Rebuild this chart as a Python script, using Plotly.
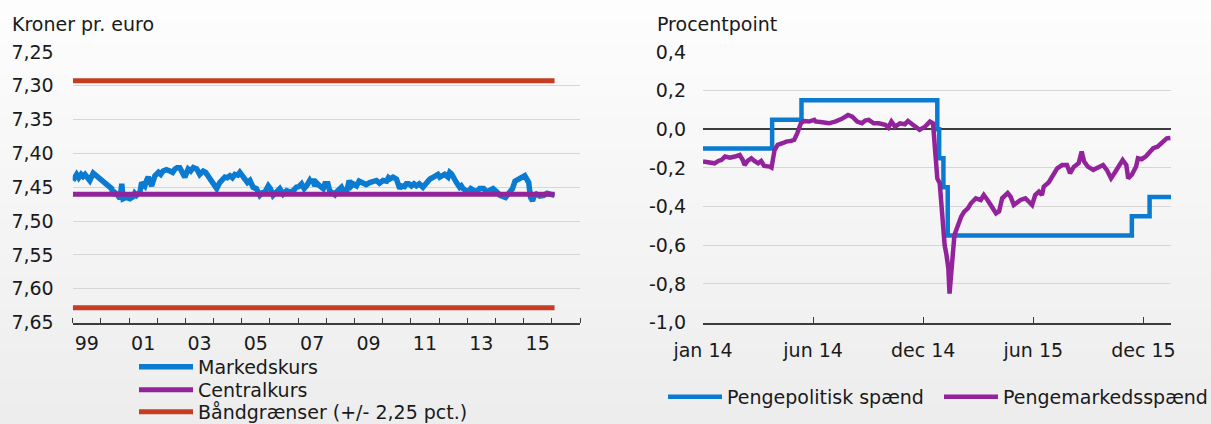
import plotly.graph_objects as go

# ---------------- data: left panel (kroner pr. euro) ----------------
mk_dates = [
    "1999-01-04", "1999-01-20", "1999-02-21", "1999-04-20", "1999-06-10", "1999-07-20",
    "1999-08-10", "1999-09-24", "1999-11-06", "1999-12-20", "2000-02-06", "2000-03-14",
    "2000-04-27", "2000-06-10", "2000-07-01", "2000-07-24", "2000-09-06", "2000-09-28",
    "2000-10-16", "2000-11-25", "2001-01-12", "2001-02-24", "2001-04-08", "2001-05-22",
    "2001-06-13", "2001-07-24", "2001-09-06", "2001-10-20", "2001-12-02", "2002-01-16",
    "2002-03-18", "2002-06-14", "2002-08-19", "2002-10-20", "2002-12-24", "2003-02-06",
    "2003-04-13", "2003-05-27", "2003-07-05", "2003-08-19", "2003-10-23", "2003-12-28",
    "2004-02-10", "2004-03-21", "2004-05-26", "2004-07-31", "2004-10-04", "2004-12-06",
    "2005-02-10", "2005-04-16", "2005-05-27", "2005-07-09", "2005-08-22", "2005-10-27",
    "2005-12-10", "2006-02-10", "2006-03-26", "2006-05-08", "2006-08-04", "2006-09-17",
    "2006-12-09", "2007-02-14", "2007-04-20", "2007-05-31", "2007-07-06", "2007-08-04",
    "2007-08-26", "2007-10-09", "2007-11-22", "2007-12-14", "2008-01-22", "2008-02-13",
    "2008-03-28", "2008-05-12", "2008-06-24", "2008-08-07", "2008-09-20", "2008-10-23",
    "2008-12-13", "2009-01-26", "2009-04-23", "2009-07-16", "2009-10-12", "2010-01-05",
    "2010-04-01", "2010-05-15", "2010-06-28", "2010-07-20", "2010-09-02", "2010-11-03",
    "2011-01-08", "2011-03-14", "2011-06-06", "2011-07-19", "2011-09-02", "2011-11-07",
    "2011-12-17", "2012-02-03", "2012-03-14", "2012-04-27", "2012-05-19", "2012-07-01",
    "2012-08-14", "2012-09-24", "2012-11-07", "2013-01-12", "2013-03-18", "2013-06-10",
    "2013-10-19", "2014-01-30", "2014-05-12", "2014-07-01", "2014-09-12", "2014-11-28",
    "2015-01-16", "2015-03-08", "2015-04-01", "2015-04-27", "2015-06-14", "2015-09-20",
    "2016-01-01", "2016-02-06",
]
mk_values = [
    7.440, 7.436, 7.431, 7.431, 7.431, 7.437,
    7.440, 7.429, 7.433, 7.438, 7.442, 7.445,
    7.448, 7.462, 7.458, 7.460, 7.467, 7.445,
    7.467, 7.465, 7.467, 7.464, 7.462, 7.457,
    7.443, 7.448, 7.435, 7.448, 7.433, 7.428,
    7.426, 7.426, 7.423, 7.421, 7.435, 7.423,
    7.421, 7.423, 7.431, 7.426, 7.433, 7.443,
    7.452, 7.443, 7.435, 7.433, 7.431, 7.428,
    7.438, 7.440, 7.450, 7.452, 7.462, 7.457,
    7.448, 7.462, 7.457, 7.452, 7.455, 7.457,
    7.450, 7.445, 7.448, 7.440, 7.438, 7.448,
    7.443, 7.448, 7.452, 7.445, 7.445, 7.455,
    7.460, 7.457, 7.452, 7.455, 7.457, 7.440,
    7.445, 7.448, 7.445, 7.443, 7.440, 7.440,
    7.438, 7.435, 7.438, 7.450, 7.448, 7.445,
    7.448, 7.448, 7.450, 7.443, 7.438, 7.433,
    7.431, 7.433, 7.431, 7.435, 7.428, 7.435,
    7.443, 7.450, 7.452, 7.457, 7.455, 7.452,
    7.455, 7.458, 7.465, 7.457, 7.441, 7.436,
    7.433, 7.443, 7.465, 7.470, 7.460, 7.462,
    7.461, 7.462,
]
# additional readings of the short-term wiggles in the market rate
mk_extra_dates = [
    "1999-03-20", "1999-05-15", "2000-05-20", "2000-08-15", "2001-03-15", "2001-08-15",
    "2002-02-15", "2002-04-30", "2002-07-20", "2002-09-15", "2002-11-20", "2003-03-10",
    "2003-09-20", "2003-11-30", "2004-04-20", "2004-06-25", "2004-09-01", "2004-11-10",
    "2005-03-15", "2005-09-25", "2006-01-05", "2006-06-20", "2006-11-01", "2007-01-10",
    "2007-03-20", "2007-06-15", "2008-04-20", "2008-07-15", "2008-11-20", "2009-03-01",
    "2009-06-01", "2009-09-01", "2009-11-20", "2010-02-20", "2010-03-15", "2010-08-10",
    "2010-10-10", "2010-12-05", "2011-02-10", "2011-04-20", "2011-08-10", "2011-10-05",
    "2012-01-10", "2012-06-10", "2012-10-15", "2012-12-10", "2013-02-15", "2013-05-01",
    "2013-08-01", "2013-09-10", "2013-12-01", "2014-03-01", "2014-08-10", "2014-10-20",
    "2015-05-20", "2015-07-30", "2015-11-01",
]
mk_extra_values = [
    7.436, 7.434, 7.452, 7.463, 7.459, 7.440,
    7.431, 7.424, 7.428, 7.421, 7.428, 7.426,
    7.428, 7.438, 7.439, 7.436, 7.436, 7.432,
    7.443, 7.458, 7.452, 7.460, 7.455, 7.449,
    7.452, 7.443, 7.461, 7.450, 7.448, 7.441,
    7.446, 7.441, 7.444, 7.441, 7.436, 7.452,
    7.449, 7.445, 7.445, 7.445, 7.440, 7.436,
    7.435, 7.430, 7.448, 7.455, 7.452, 7.457,
    7.452, 7.457, 7.452, 7.462, 7.452, 7.438,
    7.462, 7.463, 7.459,
]
central_dates = ["1999-01-04", "2016-02-06"]
central_values = [7.46038, 7.46038]
band_dates = ["1999-01-04", "2016-02-06", "2016-02-06", "1999-01-04", "2016-02-06"]
band_values = [7.2925, 7.2925, None, 7.6282, 7.6282]

left_tickvals = ["1999-07-02", "2001-07-02", "2003-07-02", "2005-07-02", "2007-07-02",
                 "2009-07-02", "2011-07-02", "2013-07-02", "2015-07-02"]
left_ticktext = ["99", "01", "03", "05", "07", "09", "11", "13", "15"]
left_year_bounds = [f"{y}-01-01" for y in range(1999, 2018)]
left_yvals = [7.25, 7.30, 7.35, 7.40, 7.45, 7.50, 7.55, 7.60, 7.65]
left_ytext = ["7,25", "7,30", "7,35", "7,40", "7,45", "7,50", "7,55", "7,60", "7,65"]

# ---------------- data: right panel (procentpoint) ----------------
pol_dates = ["2014-01-01", "2014-04-24", "2014-06-11", "2015-01-19", "2015-01-22",
             "2015-01-29", "2015-02-05", "2015-12-03", "2016-01-01", "2016-02-05"]
pol_values = [-0.10, 0.05, 0.15, 0.00, -0.15, -0.30, -0.55, -0.45, -0.35, -0.35]

mm_dates = [
    "2014-01-01", "2014-01-12", "2014-01-20", "2014-01-26", "2014-01-31", "2014-02-06",
    "2014-02-14", "2014-02-22", "2014-03-02", "2014-03-07", "2014-03-10", "2014-03-15",
    "2014-03-21", "2014-03-26", "2014-04-01", "2014-04-06", "2014-04-11", "2014-04-20",
    "2014-04-23", "2014-04-28", "2014-05-03", "2014-05-11", "2014-05-17", "2014-05-25",
    "2014-05-30", "2014-06-04", "2014-06-08", "2014-06-10", "2014-06-15", "2014-06-23",
    "2014-07-02", "2014-07-04", "2014-07-15", "2014-07-26", "2014-08-06", "2014-08-16",
    "2014-08-26", "2014-09-02", "2014-09-10", "2014-09-18", "2014-09-23", "2014-09-29",
    "2014-10-07", "2014-10-15", "2014-10-26", "2014-10-31", "2014-11-05", "2014-11-11",
    "2014-11-19", "2014-11-27", "2014-12-02", "2014-12-11", "2014-12-21", "2014-12-30",
    "2015-01-07", "2015-01-12", "2015-01-15", "2015-01-19", "2015-01-23", "2015-01-25",
    "2015-01-28", "2015-01-31", "2015-02-03", "2015-02-06", "2015-02-08", "2015-02-10",
    "2015-02-13", "2015-02-16", "2015-02-22", "2015-02-27", "2015-03-04", "2015-03-10",
    "2015-03-15", "2015-03-23", "2015-03-31", "2015-04-05", "2015-04-11", "2015-04-17",
    "2015-04-25", "2015-04-30", "2015-05-05", "2015-05-14", "2015-05-19", "2015-05-24",
    "2015-05-30", "2015-06-04", "2015-06-12", "2015-06-18", "2015-06-23", "2015-06-28",
    "2015-07-04", "2015-07-09", "2015-07-12", "2015-07-20", "2015-07-25", "2015-08-03",
    "2015-08-11", "2015-08-19", "2015-08-24", "2015-08-30", "2015-09-07", "2015-09-12",
    "2015-09-16", "2015-09-22", "2015-10-01", "2015-10-11", "2015-10-17", "2015-10-23",
    "2015-10-30", "2015-11-05", "2015-11-11", "2015-11-18", "2015-11-24", "2015-11-27",
    "2015-12-03", "2015-12-10", "2015-12-13", "2015-12-19", "2015-12-26", "2016-01-01",
    "2016-01-07", "2016-01-14", "2016-01-20", "2016-01-29", "2016-02-04",
]
mm_values = [
    -0.167, -0.171, -0.176, -0.164, -0.159, -0.141,
    -0.147, -0.141, -0.133, -0.159, -0.185, -0.164,
    -0.150, -0.164, -0.176, -0.164, -0.190, -0.193,
    -0.198, -0.107, -0.081, -0.072, -0.064, -0.060,
    -0.055, -0.021, 0.020, 0.031, 0.043, 0.040,
    0.049, 0.041, 0.036, 0.031, 0.041, 0.054,
    0.074, 0.065, 0.040, 0.031, 0.045, 0.049,
    0.031, 0.031, 0.023, 0.009, 0.040, 0.014,
    0.031, 0.026, 0.043, 0.023, -0.003, 0.014,
    0.040, 0.031, -0.115, -0.254, -0.280, -0.375,
    -0.513, -0.600, -0.650, -0.720, -0.850, -0.780,
    -0.634, -0.547, -0.495, -0.452, -0.426, -0.409,
    -0.383, -0.357, -0.366, -0.340, -0.366, -0.400,
    -0.435, -0.425, -0.357, -0.330, -0.350, -0.392,
    -0.380, -0.366, -0.357, -0.375, -0.392, -0.340,
    -0.323, -0.340, -0.297, -0.275, -0.245, -0.202,
    -0.185, -0.185, -0.228, -0.195, -0.176, -0.115,
    -0.167, -0.193, -0.210, -0.195, -0.185, -0.210,
    -0.254, -0.225, -0.193, -0.159, -0.185, -0.254,
    -0.235, -0.193, -0.150, -0.155, -0.140, -0.115,
    -0.098, -0.090, -0.072, -0.047, -0.045,
]

right_tickvals = ["2014-01-01", "2014-06-30", "2014-12-27", "2015-06-25", "2015-12-22"]
right_ticktext = ["jan 14", "jun 14", "dec 14", "jun 15", "dec 15"]
right_yvals = [0.4, 0.2, 0.0, -0.2, -0.4, -0.6, -0.8, -1.0]
right_ytext = ["0,4", "0,2", "0,0", "-0,2", "-0,4", "-0,6", "-0,8", "-1,0"]

# ---------------- styling ----------------
W, H = 1211, 424
FONT = "DejaVu Sans"
FS = 19
BLUE = "#0a7bd0"
PURPLE = "#93239b"
RED = "#c53e24"
DARK = "#3c3c3c"
GRID = "#d6d6d6"
TXT = "#1a1a1a"


def px_x(p):
    return p / W


def px_y(p):
    return 1 - p / H


# merge the market-rate readings in date order
mk_pairs = sorted(zip(mk_dates + mk_extra_dates, mk_values + mk_extra_values))
mk_x = [d for d, _ in mk_pairs]
mk_y = [v for _, v in mk_pairs]

fig = go.Figure()

fig.add_trace(go.Scatter(x=mk_x, y=mk_y, mode="lines", name="Markedskurs",
                         line=dict(color=BLUE, width=5.5), xaxis="x", yaxis="y", legend="legend"))
fig.add_trace(go.Scatter(x=central_dates, y=central_values, mode="lines", name="Centralkurs",
                         line=dict(color=PURPLE, width=5), xaxis="x", yaxis="y", legend="legend2"))
fig.add_trace(go.Scatter(x=band_dates, y=band_values, mode="lines", name="Båndgrænser (+/- 2,25 pct.)",
                         line=dict(color=RED, width=5), connectgaps=False,
                         xaxis="x", yaxis="y", legend="legend3"))

fig.add_trace(go.Scatter(x=pol_dates, y=pol_values, mode="lines", name="Pengepolitisk spænd",
                         line=dict(color=BLUE, width=4.5, shape="hv"), xaxis="x2", yaxis="y2",
                         legend="legend4"))
fig.add_trace(go.Scatter(x=mm_dates, y=mm_values, mode="lines", name="Pengemarkedsspænd",
                         line=dict(color=PURPLE, width=4.5), xaxis="x2", yaxis="y2",
                         legend="legend5"))

# background gradient bands
shapes = []
n = 40
for i in range(n):
    t = i / (n - 1)
    c = int(round(253 - t * (253 - 237)))
    shapes.append(dict(type="rect", xref="paper", yref="paper", x0=0, x1=1,
                       y1=1 - i / n, y0=1 - (i + 1) / n - 0.002,
                       fillcolor=f"rgb({c},{c},{c})", line=dict(width=0), layer="below"))

ydom = [px_y(322.5), px_y(52)]


def legend_cfg(xp, yp):
    return dict(x=px_x(xp), y=px_y(yp), xanchor="left", yanchor="middle",
                bgcolor="rgba(0,0,0,0)", borderwidth=0, itemwidth=54,
                font=dict(family=FONT, size=FS, color=TXT),
                orientation="h", itemclick=False, itemdoubleclick=False)


fig.update_layout(
    width=W, height=H,
    margin=dict(l=0, r=0, t=0, b=0, pad=0, autoexpand=False),
    paper_bgcolor="#f4f4f4",
    plot_bgcolor="rgba(0,0,0,0)",
    font=dict(family=FONT, size=FS, color=TXT),
    shapes=shapes,
    showlegend=True,
    hovermode=False,
    legend=legend_cfg(134, 367),
    legend2=legend_cfg(134, 390),
    legend3=legend_cfg(134, 412),
    legend4=legend_cfg(663, 397),
    legend5=legend_cfg(939, 397),
    xaxis=dict(
        domain=[px_x(72.7), px_x(580)],
        type="date", range=["1999-01-01", "2017-01-01"],
        tickmode="array", tickvals=left_tickvals, ticktext=left_ticktext,
        ticks="", showgrid=False, showline=True, linecolor=DARK, linewidth=1.5,
        ticklabelstandoff=3,
        minor=dict(tickmode="array", tickvals=left_year_bounds, ticks="inside",
                   ticklen=5, tickwidth=1.2, tickcolor=DARK, showgrid=False),
        anchor="y", fixedrange=True,
    ),
    yaxis=dict(
        domain=ydom, range=[7.65, 7.25],
        tickmode="array", tickvals=left_yvals, ticktext=left_ytext,
        showgrid=True, gridcolor=GRID, gridwidth=1, zeroline=False,
        showline=False, ticks="", ticklabelstandoff=18, anchor="x", fixedrange=True,
    ),
    xaxis2=dict(
        domain=[px_x(703), px_x(1171)],
        type="date", range=["2014-01-01", "2016-02-05"],
        tickmode="array", tickvals=right_tickvals, ticktext=right_ticktext,
        ticks="inside", ticklen=6, tickwidth=1.2, tickcolor=DARK,
        showgrid=False, showline=True, linecolor=DARK, linewidth=1.5,
        ticklabelstandoff=10, anchor="y2", fixedrange=True,
    ),
    yaxis2=dict(
        domain=ydom, range=[-1.0, 0.4],
        tickmode="array", tickvals=right_yvals, ticktext=right_ytext,
        showgrid=True, gridcolor=GRID, gridwidth=1,
        zeroline=True, zerolinecolor=DARK, zerolinewidth=1.5,
        showline=False, ticks="", ticklabelstandoff=16, anchor="x2", fixedrange=True,
    ),
    annotations=[
        dict(text="Kroner pr. euro", xref="paper", yref="paper", x=px_x(10), y=px_y(24),
             xanchor="left", yanchor="middle", showarrow=False,
             font=dict(family=FONT, size=FS, color=TXT)),
        dict(text="Procentpoint", xref="paper", yref="paper", x=px_x(655), y=px_y(24),
             xanchor="left", yanchor="middle", showarrow=False,
             font=dict(family=FONT, size=FS, color=TXT)),
    ],
)

fig.write_html("out.html", config={"displayModeBar": False},
               post_script="document.body.style.margin='0';")
